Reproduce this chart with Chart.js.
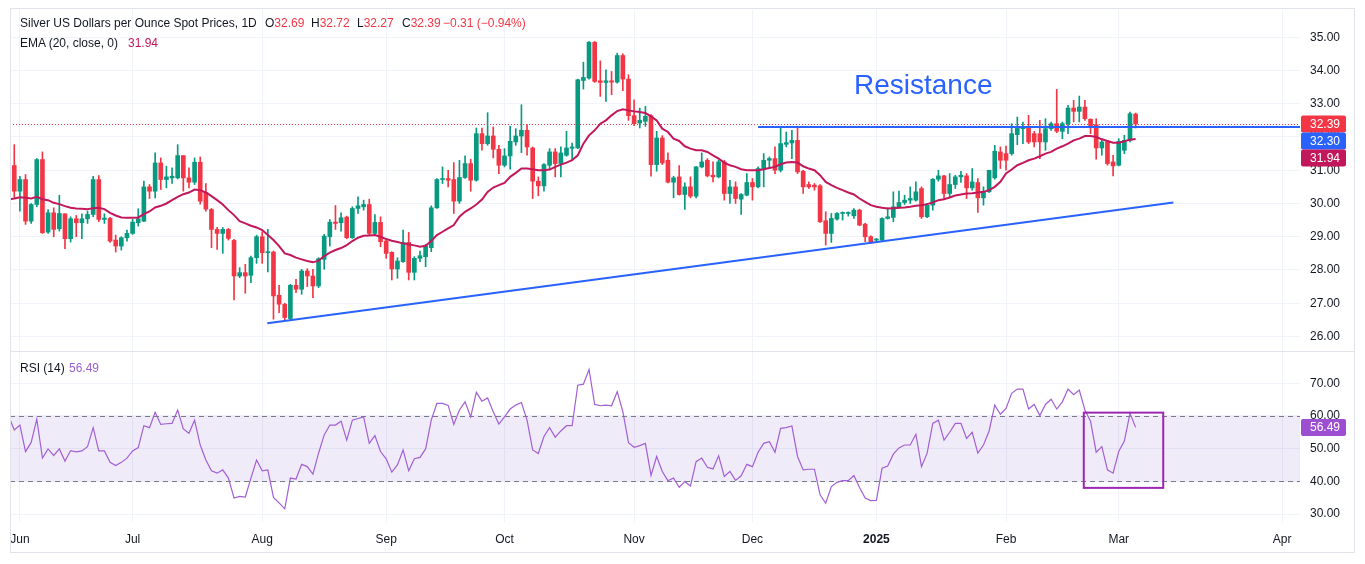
<!DOCTYPE html>
<html>
<head>
<meta charset="utf-8">
<title>Silver US Dollars per Ounce Spot Prices</title>
<script src="https://cdn.jsdelivr.net/npm/chart.js"></script>
<style>
  html, body { margin:0; padding:0; background:#ffffff; }
  body { width:1365px; height:564px; position:relative; overflow:hidden; font-family:"Liberation Sans", Arial, sans-serif; }
  canvas { position:absolute; left:0; }
  #c1 { top:0; }
  #c2 { top:352px; }
  #frame { position:absolute; left:10px; top:8px; width:1345px; height:545px; border:1px solid #e0e3eb; box-sizing:border-box; pointer-events:none; }
  #sep { position:absolute; left:10px; top:351px; width:1345px; height:1px; background:#e0e3eb; }
  .t { position:absolute; font-size:12px; line-height:14px; color:#131722; white-space:pre; }
  .r { color:#f23645; }
  .e { color:#c2185b; }
  .p { color:#9c5fd0; }
  #resist { position:absolute; left:854px; top:71px; font-size:28px; line-height:28px; color:#2962ff; white-space:pre; }
</style>
</head>
<body>
<canvas id="c1" width="1358" height="352"></canvas>
<canvas id="c2" width="1358" height="200"></canvas>
<div id="sep"></div>
<div id="frame"></div>

<div class="t" style="left:20px;top:16px">Silver US Dollars per Ounce Spot Prices, 1D</div>
<div class="t" style="left:265px;top:16px">O<span class="r">32.69</span></div>
<div class="t" style="left:311px;top:16px">H<span class="r">32.72</span></div>
<div class="t" style="left:357px;top:16px">L<span class="r">32.27</span></div>
<div class="t" style="left:402px;top:16px">C<span class="r">32.39</span></div>
<div class="t r" style="left:443px;top:16px">−0.31 (−0.94%)</div>
<div class="t" style="left:20px;top:36px">EMA (20, close, 0)</div>
<div class="t e" style="left:128px;top:36px">31.94</div>
<div class="t" style="left:20px;top:361px">RSI (14)</div>
<div class="t p" style="left:69px;top:361px">56.49</div>
<div id="resist">Resistance</div>

<script>
// ---------------- DATA ----------------
// trading-day index of the first bar (day 0 = 3 Jun 2024)
const FIRST_DAY = -2;

const opens = [
  31.95, 31.14, 30.37, 30.72, 29.47, 29.97, 31.32, 29.14, 29.72, 29.24,
  29.69, 28.94, 29.54, 29.42, 29.54, 29.67, 30.72, 29.52, 29.55, 28.90,
  28.72, 28.97, 29.10, 29.42, 29.47, 30.50, 30.37, 31.22, 30.72, 30.77,
  30.77, 31.44, 30.77, 30.64, 31.24, 30.33, 29.82, 29.22, 29.10, 29.22,
  28.89, 27.82, 27.92, 27.84, 28.37, 29.00, 28.52, 28.54, 27.24, 26.97,
  26.54, 27.54, 27.42, 27.97, 27.82, 27.52, 28.32, 29.00, 29.44, 29.42,
  29.59, 28.97, 29.85, 29.90, 29.97, 29.10, 29.43, 28.87, 28.53, 28.03,
  28.25, 28.83, 27.93, 28.35, 28.40, 28.67, 29.87, 30.72, 30.75, 30.72,
  30.07, 30.78, 31.20, 30.70, 32.10, 31.80, 32.03, 31.63, 31.15, 31.43,
  31.85, 32.03, 32.20, 31.67, 30.67, 30.53, 31.15, 31.55, 31.20, 31.45,
  31.66, 31.67, 33.70, 33.77, 34.85, 33.69, 33.64, 33.69, 33.65, 34.45,
  33.74, 32.64, 32.42, 32.47, 32.64, 31.17, 31.97, 31.30, 30.64, 30.80,
  30.27, 30.50, 30.22, 31.10, 31.30, 30.85, 30.80, 31.25, 30.30, 30.50,
  30.13, 30.25, 30.63, 30.50, 31.05, 31.30, 31.35, 31.00, 31.78, 31.82,
  31.90, 30.97, 30.57, 30.55, 30.53, 29.48, 29.10, 29.53, 29.70, 29.70,
  29.63, 29.80, 29.38, 29.00, 28.90, 28.90, 29.55, 29.58, 29.90, 30.03,
  30.10, 30.10, 30.45, 29.60, 29.95, 30.73, 30.83, 30.30, 30.57, 30.80,
  30.83, 30.47, 30.63, 30.17, 30.35, 30.77, 31.55, 31.50, 31.50, 32.07,
  32.25, 32.30, 32.10, 32.10, 31.85, 32.25, 32.40, 32.17, 32.40, 32.87,
  32.77, 32.90, 32.53, 32.37, 31.67, 31.85, 31.25, 31.15, 31.60, 31.90,
  32.69
];
const highs = [
  32.00, 31.77, 30.82, 30.87, 30.00, 31.35, 31.55, 29.82, 29.87, 30.25,
  29.69, 29.60, 29.64, 29.69, 29.77, 30.82, 30.84, 29.69, 29.58, 29.05,
  29.00, 29.20, 29.52, 29.84, 30.67, 30.57, 31.52, 31.37, 31.12, 31.07,
  31.77, 31.44, 31.07, 31.37, 31.40, 30.60, 29.85, 29.28, 29.28, 29.25,
  28.92, 28.07, 28.17, 28.42, 29.05, 29.15, 29.22, 28.57, 27.54, 27.00,
  27.57, 27.72, 28.02, 28.04, 28.02, 28.37, 29.07, 29.52, 29.94, 29.72,
  29.62, 29.90, 30.20, 30.10, 30.13, 29.67, 29.60, 28.90, 28.55, 28.37,
  29.20, 29.13, 28.40, 28.57, 28.77, 29.93, 30.75, 31.10, 31.00, 31.23,
  31.30, 31.43, 31.33, 32.27, 32.27, 32.73, 32.30, 31.75, 31.65, 32.33,
  32.25, 32.97, 32.37, 31.70, 30.80, 31.20, 31.65, 31.65, 31.70, 32.17,
  31.82, 33.74, 34.25, 34.87, 34.87, 34.29, 34.02, 33.97, 34.52, 34.50,
  33.87, 33.12, 32.87, 32.92, 32.67, 32.17, 32.04, 31.52, 30.82, 31.14,
  30.62, 30.80, 31.12, 31.52, 31.35, 31.25, 31.30, 31.30, 30.70, 30.65,
  30.30, 30.90, 30.75, 31.10, 31.50, 31.40, 31.70, 32.30, 32.15, 32.20,
  32.30, 31.00, 30.65, 30.60, 30.57, 29.75, 29.70, 29.73, 29.75, 29.75,
  29.85, 29.83, 29.40, 29.03, 28.95, 29.57, 29.87, 30.35, 30.37, 30.25,
  30.50, 30.65, 30.50, 30.00, 30.75, 31.00, 30.85, 30.90, 30.85, 30.97,
  30.90, 31.05, 30.75, 30.50, 31.00, 31.75, 31.70, 31.73, 32.40, 32.60,
  32.45, 32.65, 32.17, 32.50, 32.55, 32.45, 33.43, 32.45, 32.95, 33.10,
  33.23, 33.10, 32.55, 32.55, 31.95, 31.90, 31.45, 31.95, 32.05, 32.75,
  32.72
];
const lows = [
  31.10, 30.18, 29.77, 29.37, 29.40, 29.90, 29.10, 29.10, 29.00, 29.17,
  28.64, 28.84, 29.00, 28.94, 29.40, 29.60, 29.45, 29.40, 28.83, 28.54,
  28.60, 28.87, 29.07, 29.32, 29.45, 30.15, 30.17, 30.42, 30.47, 30.60,
  30.74, 30.37, 30.47, 30.57, 29.98, 29.77, 28.67, 28.62, 28.50, 28.90,
  27.10, 27.77, 27.30, 27.62, 28.20, 28.20, 27.94, 26.52, 26.72, 26.50,
  26.50, 27.32, 27.27, 27.50, 27.17, 27.47, 28.02, 28.72, 29.22, 29.17,
  28.94, 28.95, 29.70, 29.80, 29.05, 29.05, 28.70, 28.35, 27.70, 27.75,
  28.23, 27.70, 27.70, 28.25, 28.10, 28.55, 29.85, 30.60, 30.50, 29.70,
  30.00, 30.75, 30.37, 30.67, 31.60, 31.75, 31.37, 30.90, 31.10, 31.03,
  31.75, 31.53, 31.45, 30.15, 30.23, 30.37, 31.05, 30.80, 30.80, 31.42,
  31.32, 31.65, 33.44, 33.74, 33.64, 33.22, 33.07, 33.27, 33.62, 33.39,
  32.50, 32.34, 32.27, 32.32, 30.82, 30.97, 31.17, 30.62, 30.17, 30.25,
  29.82, 30.17, 30.17, 31.07, 30.80, 30.65, 30.77, 30.10, 30.00, 30.00,
  29.67, 30.23, 30.10, 30.47, 30.50, 31.05, 30.90, 30.95, 31.70, 31.35,
  30.90, 30.30, 30.45, 30.40, 29.43, 28.75, 28.83, 29.50, 29.50, 29.62,
  29.55, 29.33, 28.85, 28.80, 28.85, 28.85, 29.53, 29.45, 29.85, 29.97,
  30.00, 30.07, 29.55, 29.57, 29.80, 30.67, 30.15, 30.20, 30.45, 30.63,
  30.15, 30.40, 29.73, 29.95, 30.33, 30.73, 31.05, 31.00, 31.45, 31.77,
  31.80, 31.80, 31.70, 31.35, 31.60, 32.20, 32.13, 31.95, 32.10, 32.45,
  32.45, 32.50, 32.10, 31.33, 31.45, 31.15, 30.83, 31.13, 31.50, 31.85,
  32.27
];
const closes = [
  31.20, 30.37, 30.72, 29.47, 29.97, 31.32, 29.12, 29.72, 29.22, 29.70,
  28.94, 29.54, 29.42, 29.54, 29.67, 30.72, 29.52, 29.56, 28.87, 28.72,
  28.97, 29.10, 29.44, 29.54, 30.50, 30.37, 31.22, 30.72, 30.80, 30.82,
  31.44, 30.77, 30.64, 31.24, 30.07, 29.83, 29.22, 29.10, 29.22, 28.95,
  27.82, 27.92, 27.82, 28.37, 29.00, 28.52, 28.55, 27.22, 26.97, 26.57,
  27.54, 27.42, 27.97, 27.82, 27.52, 28.34, 29.02, 29.44, 29.40, 29.57,
  28.97, 29.85, 29.93, 29.97, 29.10, 29.43, 28.85, 28.50, 28.03, 28.27,
  28.83, 27.93, 28.35, 28.43, 28.73, 29.87, 30.72, 30.75, 30.70, 30.07,
  30.78, 31.20, 30.70, 32.10, 31.80, 32.03, 31.63, 31.15, 31.43, 31.87,
  32.03, 32.20, 31.70, 30.67, 30.53, 31.17, 31.55, 31.20, 31.52, 31.67,
  31.70, 33.72, 33.79, 34.85, 33.67, 33.64, 33.69, 33.65, 34.45, 33.74,
  32.64, 32.40, 32.50, 32.62, 31.17, 31.97, 31.22, 30.64, 30.77, 30.27,
  30.50, 30.22, 31.10, 31.25, 30.83, 30.80, 31.25, 30.30, 30.50, 30.15,
  30.27, 30.63, 30.50, 31.05, 31.30, 31.35, 31.00, 31.80, 31.83, 31.90,
  30.95, 30.50, 30.50, 30.50, 29.45, 29.10, 29.55, 29.70, 29.72, 29.72,
  29.80, 29.35, 29.00, 28.85, 28.93, 29.55, 29.60, 29.90, 30.03, 30.10,
  30.15, 30.35, 29.60, 29.95, 30.73, 30.83, 30.30, 30.57, 30.80, 30.85,
  30.47, 30.65, 30.17, 30.35, 31.00, 31.57, 31.30, 31.30, 32.10, 32.30,
  32.30, 31.85, 31.85, 31.85, 32.25, 32.40, 32.17, 32.40, 32.87, 32.77,
  32.90, 32.55, 32.30, 31.67, 31.85, 31.20, 31.13, 31.87, 31.90, 32.70,
  32.39
];
const ema20 = [
  30.12, 30.15, 30.19, 30.17, 30.15, 30.20, 30.13, 30.10, 30.02, 29.98,
  29.92, 29.87, 29.85, 29.84, 29.83, 29.86, 29.87, 29.83, 29.72, 29.64,
  29.58, 29.57, 29.57, 29.58, 29.68, 29.76, 29.88, 29.93, 30.00, 30.10,
  30.20, 30.28, 30.33, 30.42, 30.40, 30.33, 30.22, 30.10, 29.97, 29.80,
  29.65, 29.47, 29.40, 29.33, 29.28, 29.20, 29.05, 28.90, 28.72, 28.50,
  28.45, 28.37, 28.32, 28.27, 28.23, 28.28, 28.42, 28.52, 28.60, 28.66,
  28.75, 28.87, 28.97, 29.03, 29.04, 29.05, 29.00, 28.93, 28.88, 28.84,
  28.80, 28.77, 28.74, 28.70, 28.73, 28.87, 29.05, 29.15, 29.25, 29.35,
  29.60, 29.75, 29.85, 29.97, 30.12, 30.35, 30.48, 30.55, 30.62, 30.80,
  30.92, 31.05, 31.05, 31.03, 31.00, 31.00, 31.02, 31.10, 31.17, 31.23,
  31.30, 31.45, 31.80, 32.05, 32.20, 32.40, 32.50, 32.65, 32.78, 32.83,
  32.80, 32.77, 32.75, 32.72, 32.62, 32.50, 32.25, 32.15, 31.95, 31.88,
  31.72, 31.65, 31.60, 31.60, 31.55, 31.45, 31.35, 31.22, 31.15, 31.10,
  31.03, 31.00, 31.00, 31.00, 31.03, 31.07, 31.10, 31.18, 31.23, 31.25,
  31.23, 31.12, 31.05, 31.00, 30.85, 30.65, 30.55, 30.47, 30.40, 30.33,
  30.27, 30.15, 30.05, 29.95, 29.90, 29.87, 29.85, 29.86, 29.87, 29.88,
  29.90, 29.93, 29.95, 29.98, 30.03, 30.10, 30.13, 30.18, 30.24, 30.27,
  30.30, 30.31, 30.33, 30.35, 30.40, 30.50, 30.65, 30.90, 31.02, 31.15,
  31.22, 31.30, 31.35, 31.42, 31.50, 31.55, 31.65, 31.72, 31.80, 31.90,
  31.95, 32.03, 32.03, 32.00, 31.93, 31.88, 31.83, 31.83, 31.87, 31.92,
  31.94
];
const rsi14 = [
  60.0, 55.7, 57.2, 49.1, 51.9, 59.0, 47.1, 49.9, 47.9, 49.9,
  46.2, 49.4, 49.0, 49.3, 50.6, 56.4, 49.3, 49.3, 45.8, 44.8,
  45.8, 47.1, 49.3, 50.3, 57.0, 56.4, 61.1, 57.4, 57.6, 57.7,
  61.8, 56.0, 54.7, 58.7, 51.1, 46.5, 43.2, 42.5, 43.5, 41.0,
  34.9, 35.4, 35.2, 41.0, 46.5, 43.2, 43.5, 35.1, 33.4, 31.6,
  41.0, 40.7, 45.2, 44.5, 42.2, 48.6, 54.2, 57.2, 57.2, 58.4,
  52.6, 58.7, 59.2, 59.7, 51.6, 54.0, 49.1, 46.9, 42.8, 45.0,
  49.6, 43.2, 46.9, 47.3, 49.9, 58.7, 63.8, 63.8, 63.2, 57.4,
  61.8, 64.3, 59.7, 67.2, 64.5, 65.5, 61.3, 57.5, 59.7, 62.1,
  63.3, 64.1, 58.7, 49.6, 48.5, 53.7, 56.4, 53.5, 55.4, 57.0,
  57.0, 69.4, 69.7, 74.2, 63.5, 63.1, 63.3, 63.1, 67.4, 61.3,
  51.8, 50.4, 50.9, 51.6, 41.8, 47.6, 43.0, 40.2, 41.0, 38.2,
  39.9, 38.6, 46.0, 47.1, 44.3, 43.8, 47.8, 41.5, 43.0, 40.3,
  41.7, 45.2, 44.5, 48.9, 51.6, 52.1, 48.9, 56.2, 56.4, 56.9,
  47.6, 43.5, 43.7, 43.7, 35.9, 33.3, 38.4, 39.7, 40.2, 40.2,
  41.8, 38.1, 34.9, 34.1, 34.2, 44.0, 44.7, 48.3, 50.2, 51.1,
  51.1, 54.4, 44.5, 48.6, 57.7, 58.7, 52.6, 55.0, 57.7, 57.7,
  53.1, 55.0, 48.6, 51.1, 55.4, 63.3, 60.5, 62.3, 66.9, 68.2,
  68.2, 62.1, 63.5, 60.1, 63.5, 65.1, 62.1, 64.3, 68.2, 66.5,
  67.9, 61.8, 58.4, 48.9, 50.6, 43.5, 42.5, 49.1, 52.3, 60.8,
  56.49
];

// time axis: trading-day index of each month label
const monthDays   = [0, 20, 43, 65, 86, 109, 130, 152, 175, 195, 224];
const monthLabels = ['Jun', 'Jul', 'Aug', 'Sep', 'Oct', 'Nov', 'Dec', '2025', 'Feb', 'Mar', 'Apr'];
const priceTicks  = [26, 27, 28, 29, 30, 31, 32, 33, 34, 35];
const rsiTicks    = [30, 40, 50, 60, 70];

// price-scale marker values
const lastPrice = 32.39;
const resistanceLevel = 32.30;
const emaLast = 31.94;
const rsiLast = 56.49;
const rsiBand = [40, 60];

// drawings (in data units: trading day / price)
const resistanceStartDay = 131;
const trendStart = { day: 43.9, price: 26.40 };
const trendEnd   = { day: 204.7, price: 30.03 };
const rsiBox = { day0: 188.8, day1: 202.9, top: 61.0, bottom: 38.0 };

// ---------------- LAYOUT / STYLE ----------------
const X_DAY0 = 19.9, X_PER_DAY = 5.635;        // page x of day 0 and px per trading day
const Y_P35 = 37.3, Y_PER_UNIT = 33.35;         // page y of 35.00 and px per 1.00
const Y_R70 = 382.7 - 352, Y_PER_RSI = 3.283;   // local y (canvas 2) of RSI 70 and px per point
const UP = '#089981', DOWN = '#f23645', BLUE = '#2962ff', EMA_C = '#c2185b';
const RSI_C = '#a35fd6', RSI_LABEL = '#9c4fd0', BOX_C = '#9c27b0';
const GRID = '#f0f3fa', TEXT = '#131722';
const FONT = '"Liberation Sans", Arial, sans-serif';

Chart.defaults.font.family = FONT;
Chart.defaults.color = TEXT;

const days = closes.map((_, i) => i + FIRST_DAY);
const colors = closes.map((c, i) => (c >= opens[i] ? UP : DOWN));
const wickData = days.map((d, i) => ({ x: d, y: [lows[i], highs[i]] }));
const bodyData = days.map((d, i) => ({ x: d, y: [Math.min(opens[i], closes[i]), Math.max(opens[i], closes[i])] }));
const emaData = days.map((d, i) => ({ x: d, y: ema20[i] }));
const rsiData = days.map((d, i) => ({ x: d, y: rsi14[i] }));

function xRange(a) {
  return { min: (a.left - X_DAY0) / X_PER_DAY, max: (a.right - X_DAY0) / X_PER_DAY };
}
function priceRange(a) {
  return { min: 35 - (a.bottom - Y_P35) / Y_PER_UNIT, max: 35 + (Y_P35 - a.top) / Y_PER_UNIT };
}
function rsiRange(a) {
  return { min: 70 - (a.bottom - Y_R70) / Y_PER_RSI, max: 70 + (Y_R70 - a.top) / Y_PER_RSI };
}

function xScale(showLabels) {
  return {
    type: 'linear',
    offset: false,
    min: -1.757, max: 227.17,
    grid: { color: GRID, drawTicks: false, lineWidth: 1, offset: false },
    border: { display: false },
    ticks: {
      display: showLabels, autoSkip: false, maxRotation: 0, padding: 10, color: TEXT,
      font: (ctx) => ({ size: 12, family: FONT, weight: (ctx.tick && ctx.tick.value === monthDays[7]) ? 'bold' : 'normal' }),
      callback: (v) => { const k = monthDays.indexOf(v); return k >= 0 ? monthLabels[k] : ''; }
    },
    afterBuildTicks: (s) => { s.ticks = monthDays.map(v => ({ value: v })); },
    afterFit: (s) => { s.paddingLeft = 0; s.paddingRight = 0; s.height = showLabels ? 30 : 0; }
  };
}

function yScale(ticks, min, max) {
  return {
    position: 'right', min: min, max: max,
    grid: { color: GRID, drawTicks: false, lineWidth: 1 },
    border: { display: false },
    ticks: { padding: 10, color: TEXT, font: { size: 12, family: FONT }, callback: (v) => Number(v).toFixed(2) },
    afterBuildTicks: (s) => { s.ticks = ticks.map(v => ({ value: v })); },
    afterFit: (s) => { s.width = 58; s.paddingTop = 0; s.paddingBottom = 0; }
  };
}

function axisTag(ctx, a, yMid, bg, text) {
  const h = 17, x = a.right + 1, w = 45;
  ctx.fillStyle = bg;
  ctx.beginPath();
  if (ctx.roundRect) ctx.roundRect(x, yMid - h / 2, w, h, 2); else ctx.rect(x, yMid - h / 2, w, h);
  ctx.fill();
  ctx.fillStyle = '#ffffff';
  ctx.font = '12px ' + FONT;
  ctx.textAlign = 'left';
  ctx.textBaseline = 'middle';
  ctx.fillText(text, a.right + 10, yMid + 0.5);
}

const priceOverlay = {
  id: 'priceOverlay',
  beforeDatasetsDraw(chart) {
    const { ctx, chartArea: a, scales: { y } } = chart;
    ctx.save();
    ctx.strokeStyle = DOWN; ctx.lineWidth = 1; ctx.setLineDash([1, 2]);
    const py = Math.round(y.getPixelForValue(lastPrice)) + 0.5;
    ctx.beginPath(); ctx.moveTo(a.left, py); ctx.lineTo(a.right, py); ctx.stroke();
    ctx.restore();
  },
  afterDatasetsDraw(chart) {
    const { ctx, chartArea: a, scales: { x, y } } = chart;
    ctx.save();
    ctx.beginPath(); ctx.rect(a.left, a.top, a.right - a.left, a.bottom - a.top); ctx.clip();
    ctx.strokeStyle = BLUE; ctx.lineWidth = 2;
    const ry = y.getPixelForValue(resistanceLevel);
    ctx.beginPath(); ctx.moveTo(x.getPixelForValue(resistanceStartDay), ry); ctx.lineTo(a.right, ry); ctx.stroke();
    ctx.beginPath();
    ctx.moveTo(x.getPixelForValue(trendStart.day), y.getPixelForValue(trendStart.price));
    ctx.lineTo(x.getPixelForValue(trendEnd.day), y.getPixelForValue(trendEnd.price));
    ctx.stroke();
    ctx.restore();
  },
  afterDraw(chart) {
    const { ctx, chartArea: a, scales: { y } } = chart;
    ctx.save();
    let mid = y.getPixelForValue(lastPrice);
    const tags = [[lastPrice, DOWN], [resistanceLevel, BLUE], [emaLast, EMA_C]];
    for (const [v, c] of tags) { axisTag(ctx, a, mid, c, v.toFixed(2)); mid += 17; }
    ctx.restore();
  }
};

const rsiOverlay = {
  id: 'rsiOverlay',
  beforeDatasetsDraw(chart) {
    const { ctx, chartArea: a, scales: { y } } = chart;
    const yHi = y.getPixelForValue(rsiBand[1]), yLo = y.getPixelForValue(rsiBand[0]);
    ctx.save();
    ctx.fillStyle = 'rgba(126,87,194,0.12)';
    ctx.fillRect(a.left, yHi, a.right - a.left, yLo - yHi);
    ctx.strokeStyle = '#787b86'; ctx.lineWidth = 1; ctx.setLineDash([5, 4]);
    for (const yy of [yHi, yLo]) {
      const py = Math.round(yy) + 0.5;
      ctx.beginPath(); ctx.moveTo(a.left, py); ctx.lineTo(a.right, py); ctx.stroke();
    }
    ctx.restore();
  },
  afterDatasetsDraw(chart) {
    const { ctx, scales: { x, y } } = chart;
    ctx.save();
    ctx.strokeStyle = BOX_C; ctx.lineWidth = 2;
    const x0 = x.getPixelForValue(rsiBox.day0), x1 = x.getPixelForValue(rsiBox.day1);
    const y0 = y.getPixelForValue(rsiBox.top), y1 = y.getPixelForValue(rsiBox.bottom);
    ctx.strokeRect(x0, y0, x1 - x0, y1 - y0);
    ctx.restore();
  },
  afterDraw(chart) {
    const { ctx, chartArea: a, scales: { y } } = chart;
    ctx.save();
    axisTag(ctx, a, y.getPixelForValue(rsiLast), RSI_LABEL, rsiLast.toFixed(2));
    ctx.restore();
  }
};

const priceChart = new Chart(document.getElementById('c1'), {
  type: 'bar',
  data: {
    datasets: [
      { type: 'line', data: emaData, borderColor: EMA_C, borderWidth: 2, pointRadius: 0, fill: false, tension: 0, clip: 0, order: 0 },
      { type: 'bar', data: bodyData, backgroundColor: colors, barThickness: 4, grouped: false, minBarLength: 1, borderWidth: 0, clip: 0, order: 1 },
      { type: 'bar', data: wickData, backgroundColor: colors, barThickness: 1, grouped: false, borderWidth: 0, clip: 0, order: 2 }
    ]
  },
  options: {
    responsive: false, animation: false, devicePixelRatio: 1, events: [],
    layout: { padding: { left: 10, top: 10, right: 0, bottom: 0 } },
    plugins: { legend: { display: false }, tooltip: { enabled: false } },
    scales: { x: xScale(false), y: yScale(priceTicks, 25.5637, 35.8186) }
  },
  plugins: [priceOverlay]
});

const rsiChart = new Chart(document.getElementById('c2'), {
  type: 'line',
  data: {
    datasets: [
      { data: rsiData, borderColor: RSI_C, borderWidth: 1.2, pointRadius: 0, fill: false, tension: 0, clip: 0 }
    ]
  },
  options: {
    responsive: false, animation: false, devicePixelRatio: 1, events: [],
    layout: { padding: { left: 10, top: 0, right: 0, bottom: 0 } },
    plugins: { legend: { display: false }, tooltip: { enabled: false } },
    scales: { x: xScale(true), y: yScale(rsiTicks, 27.57, 79.35) }
  },
  plugins: [rsiOverlay]
});

function calibrate(chart, yCalc) {
  const a = chart.chartArea;
  const xr = xRange(a), yr = yCalc(a);
  const sx = chart.options.scales.x, sy = chart.options.scales.y;
  sx.min = xr.min; sx.max = xr.max; sy.min = yr.min; sy.max = yr.max;
  chart.update('none');
}
calibrate(priceChart, priceRange);
calibrate(rsiChart, rsiRange);
</script>
</body>
</html>
